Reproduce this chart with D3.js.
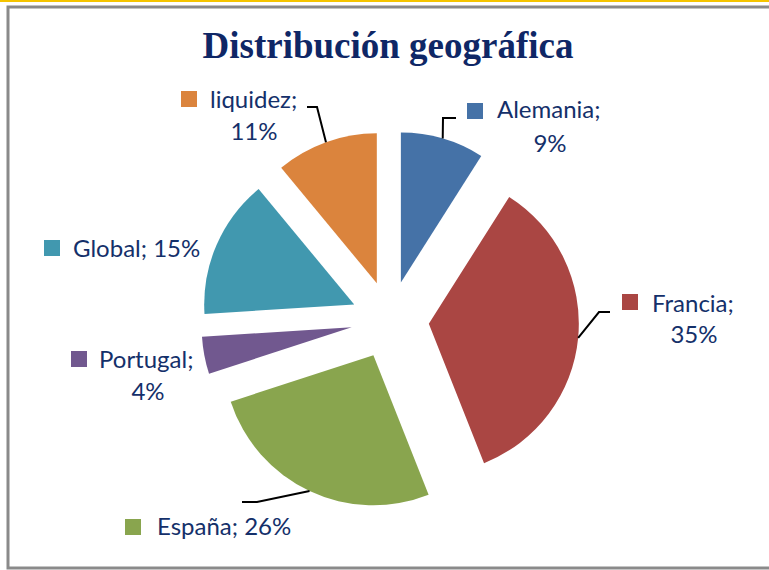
<!DOCTYPE html>
<html>
<head>
<meta charset="utf-8">
<script src="https://cdn.jsdelivr.net/npm/d3@7"></script>
<style>
  body { margin: 0; background: #fff; }
  svg { display: block; }
</style>
</head>
<body>
<svg id="chart" width="769" height="570"></svg>
<script>
// data
var categories = ["Alemania", "Francia", "España", "Portugal", "Global", "liquidez"];
var shares = [9, 35, 26, 4, 15, 11];
var colors = ["#4572a7", "#aa4643", "#89a54e", "#71588f", "#4198af", "#db843d"];

// label layout (Excel puts these by hand-ish)
var labelLayout = {
    "Alemania": {key: [467, 103], line1: [497, 118], line2: [550, 152], elbow: [[443, 118], [456, 118]]},
    "Francia":  {key: [622, 294], line1: [652, 312], line2: [694, 343], elbow: [[599, 312], [610, 312]]},
    "España":   {key: [125, 519], line1: [157, 535], line2: null, elbow: [[257, 502], [242, 502]]},
    "Portugal": {key: [71, 351], line1: [99, 368], line2: [148, 400], elbow: null},
    "Global":   {key: [44, 240], line1: [73, 257], line2: null, elbow: null},
    "liquidez": {key: [181, 91], line1: [210, 108], line2: [254, 140], elbow: [[317, 107], [307, 107]]}
};

var svg = d3.select("#chart"),
    width = +svg.attr("width"),
    height = +svg.attr("height"),
    radius = 150,
    explode = 39,
    cx = 390, cy = 320;

var textColor = "#14306a";

// frame
svg.append("rect")
    .attr("x", 0).attr("y", 0)
    .attr("width", width).attr("height", 2)
    .attr("fill", "#f5c400");

svg.append("rect")
    .attr("x", 8).attr("y", 7)
    .attr("width", width + 10).attr("height", 561)
    .attr("fill", "#fff")
    .attr("stroke", "#8a8a8a")
    .attr("stroke-width", 3);

svg.append("text")
    .attr("x", 388)
    .attr("y", 58)
    .attr("text-anchor", "middle")
    .attr("font-family", "'Liberation Serif', 'Times New Roman', serif")
    .attr("font-weight", "bold")
    .attr("font-size", 37)
    .attr("fill", "#0f2766")
    .text("Distribución geográfica");

var data = categories.map(function (c, i) {
    return {name: c, value: shares[i], color: colors[i]};
});

var pie = d3.pie()
    .sort(null)
    .value(function (d) { return d.value; });

var path = d3.arc()
    .outerRadius(radius)
    .innerRadius(0);

var g = svg.append("g").attr("transform", "translate(" + cx + "," + cy + ")");

var arcs = pie(data);

// offset of each slice along its middle angle
function shift(d, r) {
    var a = (d.startAngle + d.endAngle) / 2;
    return [Math.sin(a) * r, -Math.cos(a) * r];
}

g.selectAll(".arc")
    .data(arcs)
    .enter().append("path")
    .attr("class", "arc")
    .attr("d", path)
    .attr("transform", function (d) {
        var s = shift(d, explode);
        return "translate(" + s[0] + "," + s[1] + ")";
    })
    .attr("fill", function (d) { return d.data.color; });

// leader lines
arcs.forEach(function (d) {
    var lay = labelLayout[d.data.name];
    if (!lay.elbow) return;
    var a = (d.startAngle + d.endAngle) / 2;
    var r = radius + explode;
    var start = [cx + Math.sin(a) * r, cy - Math.cos(a) * r];
    var pts = [start].concat(lay.elbow);
    svg.append("path")
        .attr("d", d3.line()(pts))
        .attr("fill", "none")
        .attr("stroke", "#000")
        .attr("stroke-width", 2);
});

// data labels
var labelFont = "Lato, 'Open Sans', sans-serif";
arcs.forEach(function (d) {
    var lay = labelLayout[d.data.name];
    svg.append("rect")
        .attr("x", lay.key[0]).attr("y", lay.key[1])
        .attr("width", 16).attr("height", 16)
        .attr("fill", d.data.color);
    var pct = d.data.value + "%";
    var first = lay.line2 ? d.data.name + ";" : d.data.name + "; " + pct;
    svg.append("text")
        .attr("x", lay.line1[0]).attr("y", lay.line1[1])
        .attr("font-family", labelFont)
        .attr("font-size", 24)
        .attr("fill", textColor)
        .text(first);
    if (lay.line2) {
        svg.append("text")
            .attr("x", lay.line2[0]).attr("y", lay.line2[1])
            .attr("text-anchor", "middle")
            .attr("font-family", labelFont)
            .attr("font-size", 24)
            .attr("fill", textColor)
            .text(pct);
    }
});
</script>
</body>
</html>
